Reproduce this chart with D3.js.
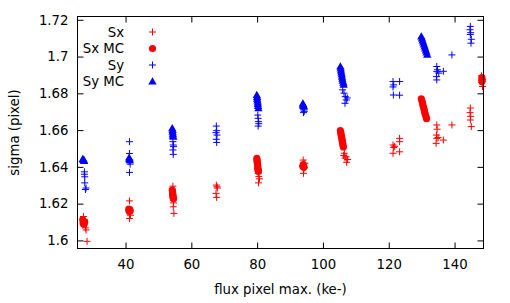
<!DOCTYPE html>
<html><head><meta charset="utf-8">
<script src="https://cdn.jsdelivr.net/npm/d3@7"></script>
<style>body{margin:0;background:#fff}svg{display:block}text{font-family:"DejaVu Sans",sans-serif;font-size:13.3px;fill:#000}</style>
</head><body>
<script>
// Data: [flux pixel max (ke-), sigma (pixel)]
const sx = [
 [27.2,1.6130],[27.5,1.6112],[27.3,1.6098],[27.8,1.6068],[28.0,1.6057],[28.3,1.5995],
 [41.2,1.6215],[41.3,1.6155],[41.5,1.6137],[41.2,1.6119],[41.0,1.6165],
 [54.4,1.6295],[54.3,1.6262],[54.6,1.6204],[54.5,1.6183],[54.7,1.6147],[54.3,1.6250],
 [67.6,1.6301],[67.8,1.6292],[67.5,1.6256],[67.7,1.6234],[67.9,1.6285],
 [80.3,1.6365],[80.5,1.6347],[80.4,1.6313],[80.7,1.6335],[80.2,1.6378],
 [94.0,1.6437],[94.2,1.6404],[94.4,1.6395],[94.1,1.6365],[94.5,1.6420],[93.8,1.6405],
 [106.5,1.6474],[107.0,1.6455],[106.3,1.6462],[107.5,1.6440],[107.2,1.6425],[106.7,1.6448],
 [121.3,1.6519],[121.5,1.6505],[121.3,1.6474],[123.3,1.6555],[123.3,1.6537],[123.3,1.6482],[121.8,1.6512],
 [134.6,1.6628],[134.7,1.6605],[134.5,1.6573],[134.6,1.6555],[134.4,1.6528],[136.6,1.6546],[135.0,1.6560],
 [139.2,1.6628],
 [144.8,1.6720],[144.7,1.6695],[144.9,1.6675],[144.8,1.6655],[145.1,1.6619],
 [148.2,1.6895],[148.4,1.6875],[148.3,1.6860],[148.5,1.6837]
];
const sxMC = [
 [27.0,1.6112],[27.2,1.6105],[27.3,1.6098],[27.1,1.6092],[27.4,1.6088],[27.6,1.6100],
 [41.0,1.6170],[41.2,1.6165],[41.4,1.6160],[41.3,1.6168],[41.1,1.6158],
 [54.2,1.6274],[54.3,1.6265],[54.3,1.6255],[54.4,1.6246],[54.4,1.6238],[54.5,1.6230],[54.6,1.6226],
 [79.9,1.6446],[80.0,1.6436],[80.0,1.6427],[80.1,1.6418],[80.1,1.6410],[80.2,1.6401],[80.2,1.6392],[80.3,1.6383],[80.4,1.6375],
 [94.0,1.6412],[94.1,1.6405],[94.2,1.6398],[93.9,1.6402],
 [105.3,1.6598],[105.4,1.6588],[105.5,1.6578],[105.6,1.6568],[105.7,1.6558],[105.8,1.6548],[105.9,1.6538],[106.0,1.6528],[106.1,1.6518],[106.2,1.6508],
 [129.9,1.6770],[130.1,1.6758],[130.3,1.6746],[130.4,1.6734],[130.6,1.6722],[130.8,1.6710],[130.9,1.6698],[131.1,1.6686],[131.3,1.6674],[131.5,1.6662],
 [148.3,1.6885],[148.4,1.6872],[148.3,1.6865]
];
const sy = [
 [27.5,1.6373],[27.6,1.6346],[27.6,1.6313],[27.8,1.6277],[27.5,1.6360],[28.0,1.6285],
 [41.2,1.6537],[41.2,1.6473],[41.3,1.6437],[41.1,1.6428],[41.4,1.6415],[41.2,1.6370],
 [54.4,1.6537],[54.5,1.6519],[54.4,1.6492],[54.5,1.6468],[54.6,1.6510],
 [67.6,1.6622],[67.7,1.6597],[67.5,1.6586],[67.8,1.6573],[67.6,1.6550],[67.7,1.6533],
 [80.2,1.6682],[80.3,1.6664],[80.4,1.6646],[80.3,1.6622],[80.5,1.6635],
 [94.0,1.6728],[94.2,1.6710],[94.1,1.6695],[94.3,1.6702],[93.9,1.6720],
 [106.0,1.6819],[106.4,1.6801],[106.8,1.6782],[107.1,1.6764],[107.4,1.6775],[106.7,1.6746],
 [121.3,1.6864],[121.5,1.6846],[121.3,1.6835],[121.4,1.6791],[123.3,1.6864],[123.3,1.6790],
 [134.6,1.6946],[134.8,1.6928],[134.6,1.6918],[134.5,1.6891],[134.6,1.6873],[136.6,1.6920],[135.2,1.6910],
 [139.2,1.7009],
 [144.8,1.7164],[144.7,1.7146],[144.9,1.7130],[144.8,1.7120],[145.1,1.7094],[145.0,1.7073]
];
const syMC = [
 [27.0,1.6442],[27.2,1.6437],[27.4,1.6432],[27.3,1.6438],
 [41.1,1.6450],[41.2,1.6442],[41.3,1.6435],
 [54.2,1.6610],[54.3,1.6600],[54.3,1.6590],[54.4,1.6580],[54.4,1.6570],[54.5,1.6564],
 [79.9,1.6791],[80.0,1.6780],[80.0,1.6770],[80.1,1.6760],[80.2,1.6750],[80.2,1.6740],[80.3,1.6730],[80.4,1.6719],
 [93.9,1.6744],[94.0,1.6738],[94.1,1.6732],[94.2,1.6728],
 [105.3,1.6946],[105.4,1.6935],[105.5,1.6924],[105.6,1.6913],[105.7,1.6902],[105.8,1.6890],[105.9,1.6879],[106.0,1.6868],[106.2,1.6857],[106.3,1.6846],
 [129.9,1.7109],[130.1,1.7098],[130.3,1.7087],[130.5,1.7076],[130.7,1.7065],[130.9,1.7054],[131.1,1.7043],[131.3,1.7032],[131.5,1.7021],[131.7,1.7010]
];
const xTicks = [40,60,80,100,120,140];
const yTicks = [1.6,1.62,1.64,1.66,1.68,1.7,1.72];
const yTickLabels = ["1.6","1.62","1.64","1.66","1.68","1.7","1.72"];
const seriesNames = ["Sx","Sx MC","Sy","Sy MC"];
const seriesColors = ["#ff0000","#ff0000","#0000ff","#0000ff"];
const seriesShapes = ["plus","circle","plus","triangle"];
const seriesData = [sx, sxMC, sy, syMC];

const W=510,H=303, L=77.5, R=483.5, T=16.5, B=248.5;
const svg=d3.select("body").append("svg").attr("width",W).attr("height",H);
const x=d3.scaleLinear().domain([25.4,148.8]).range([L,R]);
const y=d3.scaleLinear().domain([1.5956,1.7218]).range([B,T]);

function drawMarker(g, shape, color, px, py){
  if(shape==="plus"){
    g.append("path").attr("d",`M${px-3.5},${py}H${px+3.5}M${px},${py-3.5}V${py+3.5}`)
     .attr("stroke",color).attr("stroke-width",1).attr("fill","none");
  } else if(shape==="circle"){
    g.append("circle").attr("cx",px).attr("cy",py).attr("r",3.6).attr("fill",color);
  } else {
    g.append("path").attr("d",d3.symbol(d3.symbolTriangle,30)()).attr("transform",`translate(${px},${py+0.5})`).attr("fill",color);
  }
}

// ticks (inward, mirrored)
const axG=svg.append("g");
const xAxB=d3.axisBottom(x).tickValues(xTicks).tickSizeInner(-6).tickSizeOuter(0).tickPadding(11);
const xAxT=d3.axisTop(x).tickValues(xTicks).tickSizeInner(-6).tickSizeOuter(0).tickFormat("");
const yAxL=d3.axisLeft(y).tickValues(yTicks).tickSizeInner(-6).tickSizeOuter(0).tickPadding(9).tickFormat((d,i)=>yTickLabels[i]);
const yAxR=d3.axisRight(y).tickValues(yTicks).tickSizeInner(-6).tickSizeOuter(0).tickFormat("");
axG.append("g").attr("transform",`translate(0,${B})`).call(xAxB);
axG.append("g").attr("transform",`translate(0,${T})`).call(xAxT);
axG.append("g").attr("transform",`translate(${L},0)`).call(yAxL);
axG.append("g").attr("transform",`translate(${R},0)`).call(yAxR);
axG.selectAll(".domain").remove();
axG.selectAll("text").attr("font-family","DejaVu Sans").attr("font-size",13.3).attr("fill","#000");
axG.selectAll("line").attr("stroke","#000");

// points
const pg=svg.append("g");
seriesData.forEach((data,i)=>{
  data.forEach(d=>drawMarker(pg, seriesShapes[i], seriesColors[i], x(d[0]), y(d[1])));
});

// frame
svg.append("rect").attr("x",L).attr("y",T).attr("width",R-L).attr("height",B-T)
  .attr("fill","none").attr("stroke","#000").attr("stroke-width",1);

// legend
const lg=svg.append("g");
seriesNames.forEach((n,i)=>{
  const cy=32+i*16.5;
  lg.append("text").attr("x",124).attr("y",cy).attr("dy","0.35em").attr("text-anchor","end").text(n);
  drawMarker(lg, seriesShapes[i], seriesColors[i], 152.5, cy);
});

// axis titles
svg.append("text").attr("x",(L+R)/2).attr("y",294).attr("text-anchor","middle").text("flux pixel max. (ke-)");
svg.append("text").attr("transform",`translate(19,${(T+B)/2}) rotate(-90)`).attr("text-anchor","middle").text("sigma (pixel)");
</script>
</body></html>
